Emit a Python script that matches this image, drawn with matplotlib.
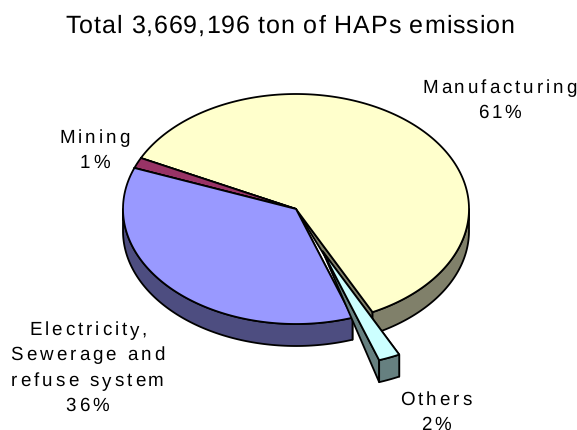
import numpy as np
import matplotlib
matplotlib.use("Agg")
import matplotlib.pyplot as plt
from matplotlib.text import Text
from matplotlib.transforms import IdentityTransform

plt.rcParams['font.family'] = ['Liberation Sans', 'DejaVu Sans']
plt.rcParams['text.hinting'] = 'no_hinting'

# Data
categories = ["Manufacturing", "Others", "Electricity,\nSewerage and\nrefuse system", "Mining"]
shares = [60.4, 2.0, 36.1, 1.5]          # drawn slice sizes
percent_labels = ["61%", "2%", "36%", "1%"]
title = "Total 3,669,196 ton of HAPs emission"

# Style
top_colors = ["#FFFFCC", "#CCFFFF", "#9999FF", "#993366"]
wall_colors = ["#80806A", "#668080", "#4D4D80", "#4D1A33"]
explode = [0, 0.4, 0, 0]
cx, cy, rx, ry, depth = 296, 209, 173, 115, 22
start_angle = 153.7
label_pos = [(499.5, 93), (436, 405), (87.5, 335), (94.5, 143)]  # centre x, first baseline y
line_step = 25.3

fig = plt.figure(figsize=(5.77, 4.30), dpi=100)
ax = fig.add_axes([0, 0, 1, 1])
ax.set_xlim(0, 577)
ax.set_ylim(430, 0)
ax.axis("off")

order = [3, 2, 1, 0]   # Mining, Electricity, Others, Manufacturing, counter-clockwise
bounds = {}
a = start_angle
for i in order:
    sweep = shares[i] * 3.6
    bounds[i] = (a, a + sweep)
    a += sweep


def pt(t, ox, oy, dz=0):
    t = np.radians(t)
    return ox + rx * np.cos(t), oy - ry * np.sin(t) + dz


def arc(t0, t1, ox, oy, dz=0):
    ts = np.linspace(t0, t1, max(int(abs(t1 - t0)) + 2, 3))
    return [pt(t, ox, oy, dz) for t in ts]


def poly(points, color, z):
    ax.fill(*zip(*points), facecolor=color, edgecolor="black", linewidth=1.3,
            joinstyle="round", zorder=z)


def draw_slice(i, z):
    t0, t1 = bounds[i]
    mid = np.radians((t0 + t1) / 2)
    ox = cx + explode[i] * rx * np.cos(mid)
    oy = cy - explode[i] * ry * np.sin(mid)
    # radial cut faces taper to the apex
    for t in (t1, t0):
        px, py = pt(t, ox, oy)
        poly([(ox, oy), (px, py), (px, py + depth)], wall_colors[i], z)
    # outer wall: front half of the ellipse only
    for k in (-1, 0, 1):
        lo, hi = max(t0, 180 + 360 * k), min(t1, 360 + 360 * k)
        if lo < hi:
            poly(arc(lo, hi, ox, oy) + arc(hi, lo, ox, oy, depth), wall_colors[i], z + 0.1)
    # top face
    poly([(ox, oy)] + arc(t0, t1, ox, oy), top_colors[i], z + 0.2)


for z, i in enumerate([0, 3, 2, 1]):   # painter's order, back to front
    draw_slice(i, z + 1)


class TrackedText(Text):
    """One text artist whose glyphs are drawn with extra letter spacing."""

    def __init__(self, *args, track=0.0, step=0.0, **kwargs):
        super().__init__(*args, **kwargs)
        self._track = track
        self._step = step

    def draw(self, renderer):
        prop = self.get_fontproperties()
        x, y = self.get_transform().transform(self.get_position())

        def width(s):
            return renderer.get_text_width_height_descent(s, prop, False)[0] if s else 0

        for n, line in enumerate(self.get_text().split("\n")):
            total = width(line) + self._track * (len(line) - 1)
            left = x - total / 2
            for k, ch in enumerate(line):
                if ch == " ":
                    continue
                px = left + width(line[:k + 1]) - width(ch) + self._track * k
                Text(px, y - n * self._step, ch, fontproperties=prop, color=self.get_color(),
                     ha="left", va="baseline", transform=IdentityTransform(),
                     figure=self.get_figure()).draw(renderer)


ax.add_artist(TrackedText(290, 33, title, track=0.9, ha="center", va="baseline",
                          fontsize=18, color="black", zorder=10))
for name, pct, (x, y) in zip(categories, percent_labels, label_pos):
    ax.add_artist(TrackedText(x, y, name + "\n" + pct, track=3.0, step=line_step, ha="center",
                              va="baseline", fontsize=13.5, color="black", zorder=10))

fig.savefig("out.png", dpi=100)
